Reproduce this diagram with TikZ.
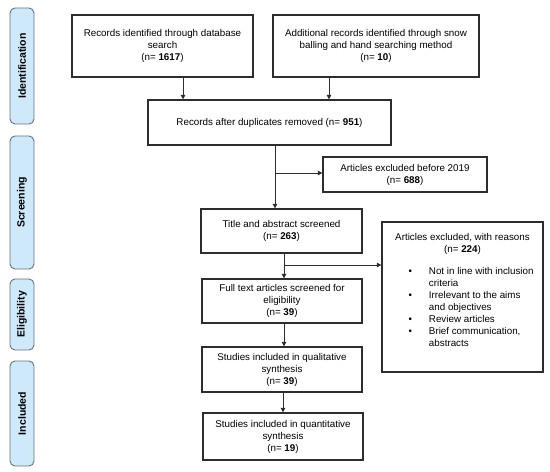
\documentclass[tikz,border=0pt]{standalone}
\usepackage{fontspec}
\setmainfont{Liberation Sans}
\usetikzlibrary{arrows.meta}
\definecolor{stagefill}{RGB}{205,233,250}
\definecolor{stageline}{RGB}{105,115,125}
\definecolor{boxline}{RGB}{45,45,45}
\newcommand{\nval}[1]{(n= \textbf{#1})}
\newcommand{\fsize}{\fontsize{9.8}{12}\selectfont}

\begin{document}
\begin{tikzpicture}[x=1pt,y=-1pt,
  box/.style={draw=boxline, line width=1.3pt, align=center, inner sep=2pt, font=\fsize},
  stage/.style={draw=stageline, fill=stagefill, rounded corners=5pt, line width=0.9pt,
    minimum height=24pt, rotate=90, inner sep=0pt, font=\bfseries\fontsize{10.5}{12}\selectfont},
  arr/.style={draw=boxline, line width=0.9pt, -{Triangle[length=4.5pt,width=4.5pt]}}]

 \useasboundingbox (0,0) rectangle (550,472);

 % stages
 \node[stage, minimum width=116pt] (sid) at (22,66) {Identification};
 \node[stage, minimum width=133pt] (sscr) at (22,202.5) {Screening};
 \node[stage, minimum width=71pt] (selig) at (22,314.5) {Eligibility};
 \node[stage, minimum width=105pt] (sincl) at (22,413.5) {Included};

 % boxes
 \node[box, minimum width=181pt, minimum height=62pt] (db) at (162.5,46)
   {Records identified through database\\search\\\nval{1617}};
 \node[box, minimum width=206pt, minimum height=62pt] (snow) at (376,46)
   {Additional records identified through snow\\balling and hand searching method\\\nval{10}};
 \node[box, minimum width=243pt, minimum height=45pt] (dup) at (269.5,122.5)
   {Records after duplicates removed \nval{951}};
 \node[box, minimum width=164pt, minimum height=35pt] (old) at (405,174.5)
   {Articles excluded before 2019\\\nval{688}};
 \node[box, minimum width=161pt, minimum height=44pt] (scr) at (281.5,231)
   {Title and abstract screened\\\nval{263}};
 \node[box, minimum width=160pt, minimum height=44pt] (full) at (282,301)
   {Full text articles screened for\\eligibility\\\nval{39}};
 \node[box, minimum width=160pt, minimum height=45pt] (qual) at (282,369.5)
   {Studies included in qualitative\\synthesis\\\nval{39}};
 \node[box, minimum width=160pt, minimum height=47pt] (quant) at (283,436.5)
   {Studies included in quantitative\\synthesis\\\nval{19}};

 \node[box, minimum width=161pt, minimum height=150pt] (excl) at (462.5,297) {};
 \node[anchor=north, align=center, font=\fsize, inner sep=0pt] (exclhd) at ([yshift=-12pt]excl.north)
   {Articles excluded, with reasons\\\nval{224}};
 \node[anchor=north west, inner sep=0pt, font=\fsize] (excllst) at ([xshift=27pt,yshift=-45pt]excl.north west)
   {\renewcommand{\arraystretch}{1}\setlength{\tabcolsep}{0pt}%
    \begin{tabular}{@{}l@{\hspace{17pt}}l@{}}
     \textbullet & Not in line with inclusion\\
                 & criteria\\
     \textbullet & Irrelevant to the aims\\
                 & and objectives\\
     \textbullet & Review articles\\
     \textbullet & Brief communication,\\
                 & abstracts
    \end{tabular}};

 % connectors
 \draw[arr] ([xshift=20.5pt]db.south) -- ([xshift=20.5pt]db.south |- dup.north);
 \draw[arr] ([xshift=-47pt]snow.south) -- ([xshift=-47pt]snow.south |- dup.north);
 \draw[arr] ([xshift=5.5pt]dup.south) -- ([xshift=5.5pt]dup.south |- scr.north);
 \coordinate (b1) at ([xshift=5.5pt]dup.south |- 0,173);
 \draw[arr] (b1) -- (b1 -| old.west);
 \draw[arr] ([xshift=2.5pt]scr.south) -- ([xshift=2.5pt]scr.south |- full.north);
 \coordinate (b2) at ([xshift=2.5pt]scr.south |- 0,265);
 \draw[arr] (b2) -- (b2 -| excl.west);
 \draw[arr] ([xshift=2pt]full.south) -- ([xshift=2pt]full.south |- qual.north);
 \draw[arr] ([xshift=1pt]qual.south) -- ([xshift=1pt]qual.south |- quant.north);

\end{tikzpicture}
\end{document}
